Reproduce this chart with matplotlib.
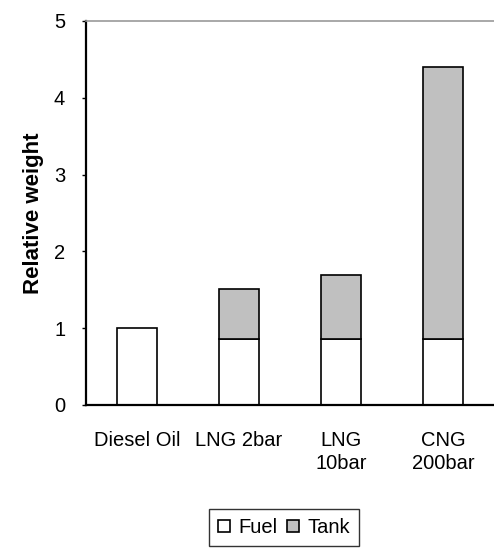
import numpy as np
import matplotlib.pyplot as plt
from matplotlib.patches import Patch

# data
fuels = ['Diesel Oil', 'LNG 2bar', 'LNG\n10bar', 'CNG\n200bar']
fuel_weight = [1.0, 0.86, 0.86, 0.86]
tank_weight = [0.0, 0.65, 0.83, 3.54]

plt.rcParams['font.family'] = ['Liberation Sans', 'DejaVu Sans']
fs = 14.5

fig = plt.figure(figsize=(4.94, 5.48), dpi=100)
ax = fig.add_axes([86 / 494, 1 - 405 / 548, 1 - 86 / 494, (405 - 21) / 548])

x = np.arange(len(fuels))
w = 0.4
ax.bar(x, fuel_weight, w, color='white', edgecolor='black', linewidth=1.2, label='Fuel')
ax.bar(x[1:], tank_weight[1:], w, bottom=fuel_weight[1:], color='#c0c0c0',
       edgecolor='black', linewidth=1.2, label='Tank')

ax.set_xlim(-0.5, 3.5)
ax.set_ylim(0, 5)
ax.set_yticks(range(6))
ax.set_xticks(x)
ax.set_xticklabels(fuels, fontsize=fs, linespacing=1.25, va='top')
ax.tick_params(axis='x', length=0, pad=19)
ax.tick_params(axis='y', direction='out', length=3, width=1, pad=12, labelsize=fs)
ax.set_ylabel('Relative weight', fontsize=16, fontweight='bold', labelpad=7)

ax.spines['left'].set_linewidth(1.6)
ax.spines['bottom'].set_linewidth(1.6)
ax.spines['top'].set_color('#999999')
ax.spines['top'].set_linewidth(1.2)
ax.spines['right'].set_visible(False)

handles = [Patch(facecolor='white', edgecolor='black', linewidth=1.2, label='Fuel'),
           Patch(facecolor='#c0c0c0', edgecolor='black', linewidth=1.2, label='Tank')]
fig.legend(handles=handles, loc='upper left', bbox_to_anchor=(209 / 494, 1 - 509 / 548),
           ncol=2, fontsize=fs, frameon=True, fancybox=False, edgecolor='black',
           handlelength=0.6, handleheight=0.6, handletextpad=0.4, columnspacing=0.5,
           borderpad=0.45, borderaxespad=0)
fig.legends[0].get_frame().set_linewidth(1.0)

fig.savefig('out.png', dpi=100)
